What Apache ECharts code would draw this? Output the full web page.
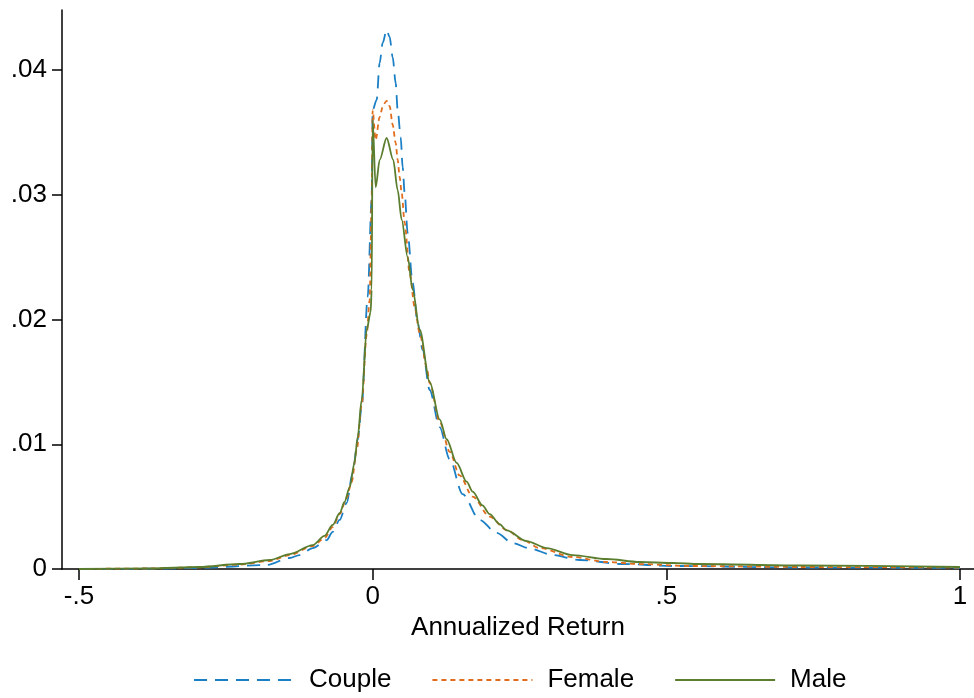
<!DOCTYPE html>
<html>
<head>
<meta charset="utf-8">
<title>Annualized Return density</title>
<script src="https://cdn.jsdelivr.net/npm/echarts@6/dist/echarts.min.js"></script>
<style>
  html, body { margin: 0; padding: 0; background: #fff; }
  #chart { width: 974px; height: 698px; }
</style>
</head>
<body>
<div id="chart"></div>
<script>
// values
var xTicks = [-0.5, 0, 0.5, 1];
var yTicks = [0, 0.01, 0.02, 0.03, 0.04];

var coupleX = [-0.5, -0.38, -0.295, -0.1805, -0.1413, -0.1243, -0.1022, -0.0783, -0.0681, -0.0562, -0.0443, -0.0341, -0.0255, -0.0187, -0.0085, -0.0017, 0, 0.0068, 0.0119, 0.017, 0.0238, 0.0289, 0.0341, 0.0392, 0.0426, 0.0477, 0.0511, 0.0545, 0.0596, 0.0681, 0.0766, 0.0851, 0.0971, 0.1141, 0.1311, 0.1532, 0.1822, 0.2111, 0.2384, 0.2673, 0.3065, 0.3525, 0.4257, 0.5108, 0.727, 1.0];
var coupleY = [0, 0.00002, 0.00008, 0.00032, 0.00088, 0.00112, 0.00168, 0.00232, 0.00297, 0.00393, 0.00529, 0.0077, 0.01034, 0.01299, 0.0218, 0.02958, 0.03679, 0.0376, 0.04056, 0.04216, 0.04321, 0.04265, 0.04104, 0.03896, 0.03679, 0.03463, 0.03222, 0.03014, 0.02693, 0.02293, 0.01972, 0.01756, 0.01435, 0.01138, 0.0088, 0.0060, 0.00393, 0.00289, 0.00208, 0.00165, 0.00112, 0.00072, 0.0004, 0.00024, 0.00012, 0.00008];

var femaleX = [-0.5, -0.38, -0.295, -0.227, -0.175, -0.141, -0.102, -0.082, -0.068, -0.056, -0.0443, -0.0358, -0.0272, -0.0187, -0.0102, -0.0051, -0.0017, 0, 0.0051, 0.0119, 0.017, 0.0221, 0.0238, 0.0289, 0.0341, 0.0392, 0.0426, 0.046, 0.0494, 0.0545, 0.063, 0.0715, 0.08, 0.0919, 0.0971, 0.1141, 0.1311, 0.1481, 0.1703, 0.1992, 0.2282, 0.2554, 0.2844, 0.3405, 0.3984, 0.4546, 0.5398, 0.727, 1.0];
var femaleY = [0, 0.00004, 0.00014, 0.00036, 0.00064, 0.00112, 0.00184, 0.00248, 0.00337, 0.00441, 0.00569, 0.00697, 0.00954, 0.01315, 0.01876, 0.02156, 0.02958, 0.03679, 0.03439, 0.03623, 0.03703, 0.03744, 0.03753, 0.03711, 0.03561, 0.03415, 0.03279, 0.03142, 0.03014, 0.02774, 0.02373, 0.021, 0.01892, 0.01619, 0.01491, 0.0118, 0.0094, 0.0075, 0.0058, 0.0042, 0.00313, 0.00232, 0.00168, 0.00096, 0.00056, 0.0004, 0.00024, 0.00016, 0.00012];

var maleX = [-0.5, -0.38, -0.295, -0.227, -0.175, -0.141, -0.102, -0.082, -0.068, -0.056, -0.048, -0.039, -0.031, -0.0255, -0.0187, -0.0102, -0.0034, -0.0017, 0, 0.0051, 0.012, 0.0238, 0.035, 0.0426, 0.0494, 0.0596, 0.0681, 0.08, 0.0971, 0.1141, 0.126, 0.143, 0.16, 0.1703, 0.187, 0.1992, 0.216, 0.2282, 0.2622, 0.2963, 0.3405, 0.3984, 0.4546, 0.5108, 0.5568, 0.727, 1.0];
var maleY = [0, 0.00004, 0.00016, 0.0004, 0.00072, 0.0012, 0.00192, 0.00265, 0.00353, 0.00449, 0.00537, 0.00657, 0.0085, 0.01058, 0.01355, 0.01916, 0.0206, 0.02236, 0.036, 0.0306, 0.0328, 0.03455, 0.0328, 0.03038, 0.028, 0.025, 0.0224, 0.0192, 0.0150, 0.0120, 0.0104, 0.0085, 0.0070, 0.0062, 0.0051, 0.0044, 0.0036, 0.0031, 0.00224, 0.00168, 0.00112, 0.0008, 0.00056, 0.00048, 0.0004, 0.00028, 0.00016];

function pairs(xs, ys) {
  var out = [];
  for (var i = 0; i < xs.length; i++) out.push([xs[i], ys[i]]);
  return out;
}

function shortNum(v) {
  if (v === 0) return '0';
  return String(v).replace('0.', '.');
}

var font = 'Liberation Sans, Arial, Helvetica, sans-serif';

var myChart = echarts.init(document.getElementById('chart'));
var option = {
  animation: false,
  backgroundColor: '#fff',
  grid: { left: 62, right: 0, top: 10, bottom: 129, containLabel: false },
  legend: {
    bottom: 0,
    left: 188,
    itemWidth: 100,
    itemHeight: 12,
    itemGap: 40,
    itemStyle: { opacity: 0 },
    textStyle: { fontFamily: font, fontSize: 26, color: '#000', padding: [0, 0, 0, 10] },
    data: ['Couple', 'Female', 'Male']
  },
  xAxis: {
    type: 'value',
    min: -0.529,
    max: 1.024,
    name: 'Annualized Return',
    nameLocation: 'middle',
    nameGap: 43,
    nameTextStyle: { fontFamily: font, fontSize: 26, color: '#000' },
    axisLine: { onZero: false, lineStyle: { color: '#000', width: 1.5 } },
    axisTick: { show: true, length: 11, customValues: xTicks, lineStyle: { color: '#000', width: 1.5 } },
    axisLabel: { customValues: xTicks, margin: 15, fontFamily: font, fontSize: 26, color: '#000', formatter: shortNum },
    splitLine: { show: false }
  },
  yAxis: {
    type: 'value',
    min: 0,
    max: 0.04481,
    axisLine: { show: true, onZero: false, lineStyle: { color: '#000', width: 1.5 } },
    axisTick: { show: true, length: 10, customValues: yTicks, lineStyle: { color: '#000', width: 1.5 } },
    axisLabel: { customValues: yTicks, margin: 15, fontFamily: font, fontSize: 26, color: '#000', formatter: shortNum },
    splitLine: { show: false }
  },
  series: [
    {
      name: 'Couple', type: 'line', symbol: 'none', smooth: 0.3, smoothMonotone: 'x',
      data: pairs(coupleX, coupleY),
      itemStyle: { color: '#1a7fc4' },
      lineStyle: { color: '#1a7fc4', width: 1.8, type: [13, 8] }
    },
    {
      name: 'Female', type: 'line', symbol: 'none', smooth: 0.3, smoothMonotone: 'x',
      data: pairs(femaleX, femaleY),
      itemStyle: { color: '#e06c1c' },
      lineStyle: { color: '#e06c1c', width: 1.8, type: [5, 4] }
    },
    {
      name: 'Male', type: 'line', symbol: 'none', smooth: 0.3, smoothMonotone: 'x',
      data: pairs(maleX, maleY),
      itemStyle: { color: '#5a7d2e' },
      lineStyle: { color: '#5a7d2e', width: 1.8 }
    }
  ]
};
myChart.setOption(option);
</script>
</body>
</html>
